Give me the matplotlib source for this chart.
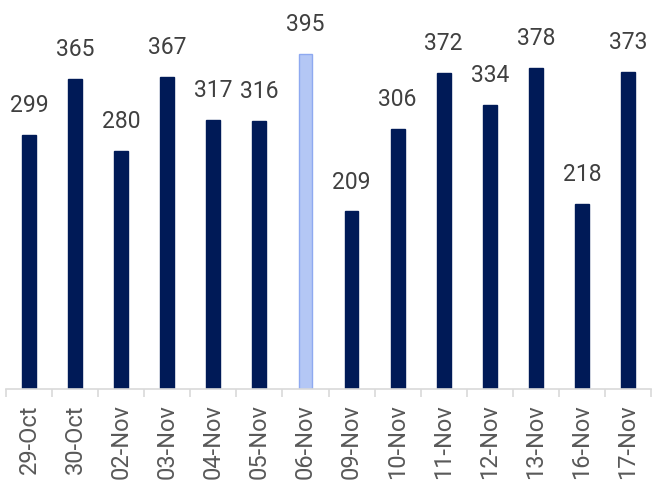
import matplotlib
matplotlib.use('Agg')
import matplotlib.pyplot as plt
import numpy as np

dates = ['29-Oct', '30-Oct', '02-Nov', '03-Nov', '04-Nov', '05-Nov', '06-Nov',
         '09-Nov', '10-Nov', '11-Nov', '12-Nov', '13-Nov', '16-Nov', '17-Nov']
values = [299, 365, 280, 367, 317, 316, 395, 209, 306, 372, 334, 378, 218, 373]
highlight = '06-Nov'

plt.rcParams['font.family'] = ['Roboto', 'DejaVu Sans']

fig = plt.figure(figsize=(6.53, 4.84), dpi=100)
ax = fig.add_axes([6 / 653, 95 / 484, 645 / 653, 389 / 484])

x = np.arange(len(dates))
colors = ['#B4C7F5' if d == highlight else '#001A57' for d in dates]
edges = ['#8EA9F0' if d == highlight else '#001A57' for d in dates]
bars = ax.bar(x, values, width=0.3, color=colors, edgecolor=edges, linewidth=1)

for xi, v in zip(x, values):
    ax.text(xi, v + 21, str(v), ha='center', va='bottom', fontsize=16.5, color='#404040')

ax.set_xlim(-0.5, len(dates) - 0.5)
ax.set_ylim(0, 458)
ax.set_yticks([])
for s in ['top', 'right', 'left']:
    ax.spines[s].set_visible(False)
ax.spines['bottom'].set_color('#D9D9D9')
ax.spines['bottom'].set_linewidth(1.2)

ax.set_xticks(x)
ax.set_xticklabels(dates, rotation=90, fontsize=17, color='#595959')
ax.tick_params(axis='x', which='major', length=0, pad=11)
ax.set_xticks(np.arange(-0.5, len(dates)), minor=True)
ax.tick_params(axis='x', which='minor', length=6, color='#D9D9D9', width=1.2)

fig.savefig('out.png', dpi=100)
